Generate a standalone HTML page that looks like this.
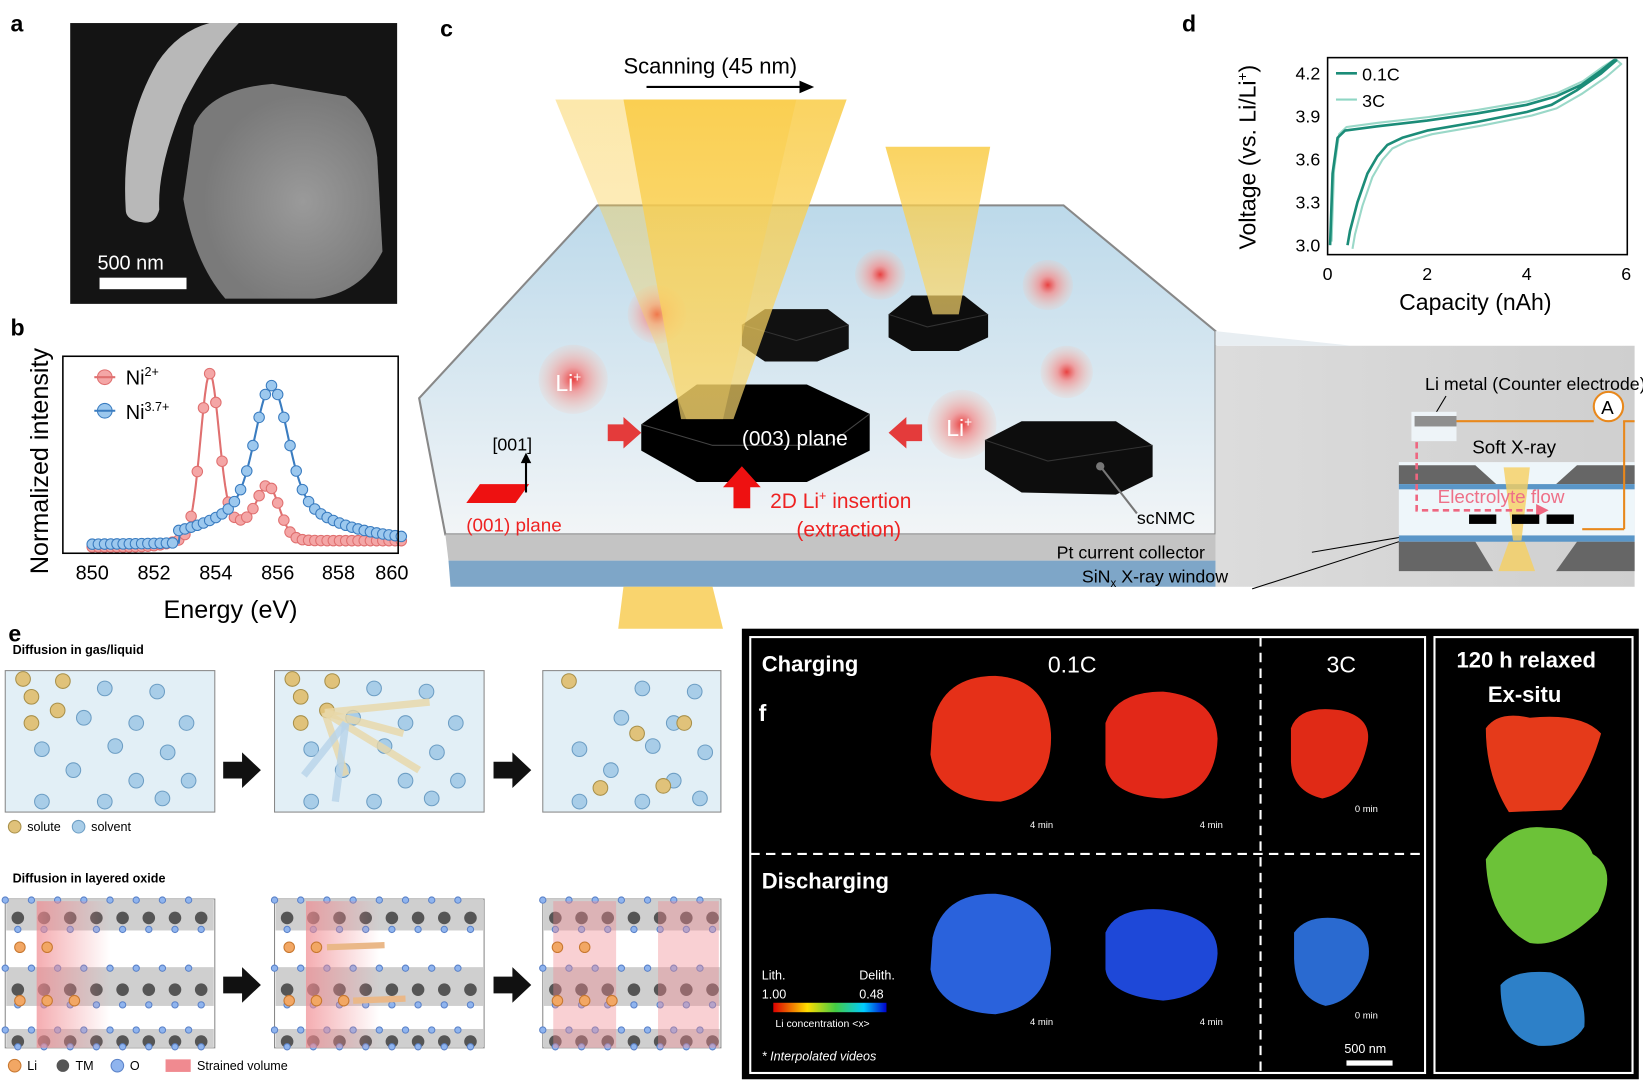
<!DOCTYPE html>
<html><head><meta charset="utf-8"><style>
html,body{margin:0;padding:0;background:#fff;width:1643px;height:1080px;overflow:hidden}
svg text{font-family:"Liberation Sans",sans-serif}
</style></head><body>
<svg id="s" width="1643" height="1080" viewBox="0 0 1568 1030.7" preserveAspectRatio="none" xmlns="http://www.w3.org/2000/svg">
<defs>
<radialGradient id="li"><stop offset="0" stop-color="#e84040"/><stop offset=".35" stop-color="#f29090" stop-opacity=".8"/><stop offset="1" stop-color="#f6c0b0" stop-opacity=".15"/></radialGradient>
<linearGradient id="face" x1="0" y1="0" x2="0" y2="1"><stop offset="0" stop-color="#bcd9ea"/><stop offset="1" stop-color="#f2f5f7"/></linearGradient>
<linearGradient id="beam" x1="0" y1="0" x2="0" y2="1"><stop offset="0" stop-color="#f9c93c" stop-opacity=".95"/><stop offset="1" stop-color="#fbd970" stop-opacity=".8"/></linearGradient>
<linearGradient id="gpanel" x1="0" y1="0" x2="1" y2="0"><stop offset="0" stop-color="#dcdcdc"/><stop offset="1" stop-color="#cfcfcf"/></linearGradient>
<radialGradient id="sem" cx=".6" cy=".55" r=".5"><stop offset="0" stop-color="#9a9a9a"/><stop offset="1" stop-color="#7a7a7a"/></radialGradient>
<linearGradient id="strain" x1="0" y1="0" x2="1" y2="0"><stop offset="0" stop-color="#f08a90" stop-opacity=".7"/><stop offset="1" stop-color="#f08a90" stop-opacity="0"/></linearGradient>
<linearGradient id="jet"><stop offset="0" stop-color="#d00"/><stop offset=".3" stop-color="#fd0"/><stop offset=".55" stop-color="#4c4"/><stop offset=".8" stop-color="#0cf"/><stop offset="1" stop-color="#00c"/></linearGradient>
</defs>

<text x="10" y="30" font-size="22" font-weight="bold">a</text>
<text x="10" y="320" font-size="22" font-weight="bold">b</text>
<text x="420" y="35" font-size="22" font-weight="bold">c</text>
<text x="1128" y="30" font-size="22" font-weight="bold">d</text>
<text x="8" y="612" font-size="22" font-weight="bold">e</text>

<!-- a -->
<rect x="67" y="22" width="312" height="268" fill="#141414"/>
<path d="M120 200 Q115 120 150 60 Q170 30 200 22 L228 22 Q200 50 175 100 Q150 160 152 200 Q148 215 135 212 Q120 210 120 200Z" fill="#b8b8b8"/>
<path d="M185 120 Q200 85 260 80 L330 92 Q355 110 360 150 L365 240 Q345 280 300 285 L215 285 Q185 250 175 190Z" fill="url(#sem)"/>
<rect x="95" y="265" width="83" height="11" fill="#fff"/>
<text x="93" y="257" font-size="19" fill="#fff">500 nm</text>

<!-- b -->
<g id="pb"></g>
<rect x="60" y="340" width="320" height="188" fill="none" stroke="#000" stroke-width="1.5"/>
<g font-size="19" text-anchor="middle">
<text x="88" y="553">850</text><text x="147" y="553">852</text><text x="206" y="553">854</text><text x="265" y="553">856</text><text x="323" y="553">858</text><text x="374" y="553">860</text>
</g>
<text x="220" y="590" font-size="24" text-anchor="middle">Energy (eV)</text>
<text transform="translate(46,440) rotate(-90)" font-size="24" text-anchor="middle">Normalized intensity</text>
<circle cx="100" cy="360" r="7" fill="#f4a6a6" stroke="#e07070"/><line x1="90" y1="360" x2="110" y2="360" stroke="#e07070" stroke-width="2"/>
<text x="120" y="367" font-size="19">Ni<tspan font-size="12" dy="-8">2+</tspan></text>
<circle cx="100" cy="392" r="7" fill="#9cc8ee" stroke="#3a7cc0"/><line x1="90" y1="392" x2="110" y2="392" stroke="#3a7cc0" stroke-width="2"/>
<text x="120" y="400" font-size="19">Ni<tspan font-size="12" dy="-8">3.7+</tspan></text>

<!-- c -->
<polygon points="400,380 570,196 1015,196 1160,316 1160,510 425,510" fill="url(#face)" stroke="#888" stroke-width="2"/>
<polygon points="425,510 1160,510 1160,535 428,535" fill="#c4c4c4"/>
<polygon points="428,535 1160,535 1160,560 430,560" fill="#7ea6c8"/>
<circle cx="627" cy="300" r="28" fill="url(#li)"/>
<circle cx="840" cy="262" r="24" fill="url(#li)"/>
<circle cx="1018" cy="355" r="25" fill="url(#li)"/>
<circle cx="1000" cy="272" r="24" fill="url(#li)"/>
<circle cx="547" cy="362" r="33" fill="url(#li)"/>
<circle cx="918" cy="405" r="33" fill="url(#li)"/>
<text x="530" y="373" font-size="22" fill="#fff">Li<tspan font-size="13" dy="-9">+</tspan></text>
<!-- hexes -->
<polygon points="708,310 730,295 790,295 810,310 810,333 780,345 730,345 708,330" fill="#111"/>
<polyline points="708,310 760,325 810,310" fill="none" stroke="#333"/>
<polygon points="848,300 870,282 920,282 943,300 943,322 915,335 870,335 848,322" fill="#0d0d0d"/>
<polyline points="848,300 885,312 943,300" fill="none" stroke="#333"/>
<polygon points="940,420 975,402 1065,402 1100,425 1100,455 1065,472 975,470 940,448" fill="#0d0d0d"/>
<polyline points="940,420 1000,440 1100,425" fill="none" stroke="#333"/>
<text x="903" y="416" font-size="22" fill="#fff">Li<tspan font-size="13" dy="-9">+</tspan></text>
<line x1="1050" y1="445" x2="1085" y2="490" stroke="#777" stroke-width="2"/><circle cx="1050" cy="445" r="4" fill="#777"/>
<polygon points="612,405 665,367 770,367 830,395 830,430 770,460 665,460 612,430" fill="#000"/>
<polyline points="612,405 680,425 790,425 830,395" fill="none" stroke="#444"/>
<!-- beams -->
<polygon points="530,95 760,95 690,400 655,400" fill="url(#beam)" opacity=".45"/>
<polygon points="595,95 808,95 700,400 650,400" fill="url(#beam)" opacity=".85"/>
<polygon points="845,140 945,140 915,300 890,300" fill="url(#beam)" opacity=".85"/>
<polygon points="595,560 680,560 690,600 590,600" fill="#f7c94a" opacity=".8"/>
<text x="708" y="425" font-size="20" fill="#fff">(003) plane</text>
<polygon points="580,405 595,405 595,398 612,413 595,428 595,421 580,421" fill="#e43b3b"/>
<polygon points="880,405 865,405 865,398 848,413 865,428 865,421 880,421" fill="#e43b3b"/>
<polygon points="700,485 700,465 690,465 708,445 726,465 716,465 716,485" fill="#ee1111"/>
<polygon points="458,462 505,462 492,480 445,480" fill="#ee1111"/>
<line x1="502" y1="470" x2="502" y2="440" stroke="#000" stroke-width="2"/><polygon points="497,442 502,432 507,442"/>
<text x="470" y="430" font-size="17">[001]</text>
<text x="445" y="507" font-size="18" fill="#ee2222">(001) plane</text>
<text x="735" y="485" font-size="20" fill="#ee2222">2D Li<tspan font-size="12" dy="-8">+</tspan><tspan dy="8"> insertion</tspan></text>
<text x="760" y="512" font-size="20" fill="#ee2222">(extraction)</text>
<text x="1085" y="500" font-size="17">scNMC</text>
<text x="595" y="70" font-size="21">Scanning (45 nm)</text>
<line x1="617" y1="83" x2="765" y2="83" stroke="#000" stroke-width="2"/><polygon points="763,77 777,83 763,89"/>

<!-- inset -->
<rect x="1160" y="330" width="400" height="230" fill="url(#gpanel)"/>
<polygon points="1160,316 1160,330 1290,330" fill="#e8eef2"/>
<text x="1360" y="372" font-size="17">Li metal (Counter electrode)</text>
<line x1="1380" y1="378" x2="1368" y2="398" stroke="#000"/>
<rect x="1347" y="393" width="43" height="28" fill="#eef4f8"/>
<rect x="1350" y="397" width="40" height="10" fill="#8f8f8f"/>
<rect x="1335" y="441" width="225" height="70" fill="#eef6fa"/>
<polygon points="1335,444 1408,444 1428,462 1335,462" fill="#666"/>
<polygon points="1560,444 1505,444 1485,462 1560,462" fill="#666"/>
<rect x="1335" y="462" width="225" height="5" fill="#5a96c8"/>
<rect x="1335" y="511" width="225" height="6" fill="#5a96c8"/>
<polygon points="1335,517 1408,517 1425,545 1335,545" fill="#666"/>
<polygon points="1560,517 1505,517 1485,545 1560,545" fill="#666"/>
<polygon points="1435,446 1460,446 1452,516 1444,516" fill="#f6d060" opacity=".8"/>
<polygon points="1440,517 1455,517 1465,545 1430,545" fill="#f6d060" opacity=".8"/>
<polyline points="1352,422 1352,487 1468,487" fill="none" stroke="#ee6680" stroke-width="2.5" stroke-dasharray="6,4"/>
<polygon points="1466,481 1478,487 1466,493" fill="#ee6680"/>
<text x="1372" y="480" font-size="18" fill="#ee7088">Electrolyte flow</text>
<text x="1405" y="433" font-size="18">Soft X-ray</text>
<rect x="1402" y="491" width="26" height="9"/><rect x="1443" y="491" width="26" height="9"/><rect x="1476" y="491" width="26" height="9"/>
<line x1="1390" y1="402" x2="1521" y2="402" stroke="#e8881c" stroke-width="2"/>
<line x1="1549" y1="402" x2="1560" y2="402" stroke="#e8881c" stroke-width="2"/>
<circle cx="1535" cy="388" r="14" fill="#fff" stroke="#e8881c" stroke-width="2"/>
<text x="1528" y="395" font-size="18">A</text>
<line x1="1550" y1="402" x2="1550" y2="505" stroke="#e8881c" stroke-width="2"/>
<line x1="1510" y1="505" x2="1550" y2="505" stroke="#e8881c" stroke-width="2"/>
<line x1="1252" y1="527" x2="1335" y2="513" stroke="#000"/>
<line x1="1195" y1="562" x2="1335" y2="517" stroke="#000"/>
<text x="1150" y="533" font-size="17" text-anchor="end">Pt current collector</text>
<text x="1172" y="556" font-size="17" text-anchor="end">SiN<tspan font-size="11" dy="4">x</tspan><tspan dy="-4"> X-ray window</tspan></text>

<!-- d -->
<g id="pd"></g>
<rect x="1267" y="55" width="286" height="188" fill="none" stroke="#000" stroke-width="1.5"/>
<g font-size="17" text-anchor="end">
<text x="1260" y="76">4.2</text><text x="1260" y="117">3.9</text><text x="1260" y="158">3.6</text><text x="1260" y="199">3.3</text><text x="1260" y="240">3.0</text>
</g>
<g font-size="17" text-anchor="middle">
<text x="1267" y="267">0</text><text x="1362" y="267">2</text><text x="1457" y="267">4</text><text x="1552" y="267">6</text>
</g>
<text x="1408" y="296" font-size="22" text-anchor="middle">Capacity (nAh)</text>
<text transform="translate(1198,150) rotate(-90)" font-size="22" text-anchor="middle">Voltage (vs. Li/Li<tspan font-size="13" dy="-8">+</tspan><tspan dy="8">)</tspan></text>
<line x1="1275" y1="70" x2="1295" y2="70" stroke="#1b8c78" stroke-width="2.5"/><text x="1300" y="77" font-size="17">0.1C</text>
<line x1="1275" y1="95" x2="1295" y2="95" stroke="#8fd6c4" stroke-width="2"/><text x="1300" y="102" font-size="17">3C</text>

<!-- e -->
<text x="12" y="624" font-size="12" font-weight="bold">Diffusion in gas/liquid</text>
<text x="12" y="842" font-size="12" font-weight="bold">Diffusion in layered oxide</text>
<g id="pe"></g>
<g font-size="12">
<circle cx="14" cy="789" r="6" fill="#e0c27a" stroke="#a8904a"/><text x="26" y="793">solute</text>
<circle cx="75" cy="789" r="6" fill="#a8cde8" stroke="#6d9ec4"/><text x="87" y="793">solvent</text>
<circle cx="14" cy="1017" r="6" fill="#f2a764" stroke="#c87830"/><text x="26" y="1021">Li</text>
<circle cx="60" cy="1017" r="6" fill="#555"/><text x="72" y="1021">TM</text>
<circle cx="112" cy="1017" r="6" fill="#8fb4ee" stroke="#5b82c8"/><text x="124" y="1021">O</text>
<rect x="158" y="1011" width="24" height="12" fill="#f08a90"/><text x="188" y="1021">Strained volume</text>
</g>

<!-- f -->
<rect x="708" y="600" width="856" height="430" fill="#000"/>
<rect x="716" y="608" width="644" height="416" fill="none" stroke="#fff" stroke-width="2"/>
<rect x="1369" y="608" width="189" height="416" fill="none" stroke="#fff" stroke-width="2"/>
<line x1="716" y1="815" x2="1360" y2="815" stroke="#fff" stroke-width="2" stroke-dasharray="9,6"/>
<line x1="1203" y1="608" x2="1203" y2="1024" stroke="#fff" stroke-width="2" stroke-dasharray="9,6"/>
<text x="727" y="641" font-size="21" font-weight="bold" fill="#fff">Charging</text>
<text x="727" y="848" font-size="21" font-weight="bold" fill="#fff">Discharging</text>
<text x="1000" y="642" font-size="22" fill="#fff">0.1C</text>
<text x="1266" y="642" font-size="22" fill="#fff">3C</text>
<text x="1390" y="637" font-size="21" font-weight="bold" fill="#fff">120 h relaxed</text>
<text x="1420" y="670" font-size="21" font-weight="bold" fill="#fff">Ex-situ</text>
<text x="724" y="688" font-size="22" font-weight="bold" fill="#fff">f</text>
<path d="M890 690 Q900 645 950 645 Q1000 648 1003 700 Q1005 755 955 765 Q895 765 888 720Z" fill="#e53018"/>
<path d="M1055 690 Q1065 660 1110 660 Q1160 665 1162 705 Q1160 760 1110 762 Q1060 760 1055 730Z" fill="#e22818"/>
<path d="M1232 695 Q1240 672 1280 678 Q1310 685 1305 710 Q1295 755 1262 762 Q1232 755 1232 725Z" fill="#e02a16"/>
<path d="M1418 695 Q1430 678 1460 685 Q1510 680 1528 700 Q1515 745 1490 773 L1440 775 Q1418 740 1418 695Z" fill="#e53a1a"/>
<path d="M1418 820 Q1440 785 1475 790 Q1510 790 1520 815 Q1545 830 1525 870 Q1490 905 1460 900 Q1420 880 1418 820Z" fill="#6cc238"/>
<path d="M1432 940 Q1445 925 1480 928 Q1515 940 1512 980 Q1500 1000 1468 998 Q1432 990 1432 940Z" fill="#2d80c8"/>
<path d="M890 895 Q900 852 950 853 Q1000 858 1003 905 Q1003 960 950 968 Q895 965 888 925Z" fill="#2a62dc"/>
<path d="M1055 890 Q1065 865 1110 868 Q1162 875 1162 910 Q1160 950 1110 955 Q1058 950 1055 925Z" fill="#1e48d8"/>
<path d="M1235 890 Q1248 872 1280 877 Q1310 885 1306 915 Q1296 955 1265 960 Q1236 952 1235 915Z" fill="#2a6ad0"/>
<g font-size="9" fill="#fff"><text x="983" y="790">4 min</text><text x="1145" y="790">4 min</text><text x="1293" y="775">0 min</text>
<text x="983" y="978">4 min</text><text x="1145" y="978">4 min</text><text x="1293" y="972">0 min</text></g>
<text x="727" y="935" font-size="12" fill="#fff">Lith.</text><text x="820" y="935" font-size="12" fill="#fff">Delith.</text>
<text x="727" y="953" font-size="12" fill="#fff">1.00</text><text x="820" y="953" font-size="12" fill="#fff">0.48</text>
<rect x="738" y="957" width="108" height="9" fill="url(#jet)"/>
<text x="740" y="980" font-size="10" fill="#fff">Li concentration &lt;x&gt;</text>
<text x="727" y="1012" font-size="12" font-style="italic" fill="#fff">* Interpolated videos</text>
<rect x="1285" y="1012" width="44" height="5" fill="#fff"/>
<text x="1283" y="1005" font-size="12" fill="#fff">500 nm</text>
</svg>
<script>
var N="http://www.w3.org/2000/svg";
function el(p,t,a){var e=document.createElementNS(N,t);for(var k in a)e.setAttribute(k,a[k]);p.appendChild(e);return e;}
var pb=document.getElementById('pb');
function bx(E){return 88+(E-850)*29.5;}
function red(E){return 522-148*Math.exp(-Math.pow((E-853.8)/0.42,2))-45*Math.exp(-Math.pow((E-855.7)/0.5,2))-18*Math.exp(-Math.pow((E-854.6)/1.2,2))-6/(1+Math.exp(-(E-852.5)*3));}
function blue(E){return 520-100*Math.exp(-Math.pow((E-855.8)/0.7,2))-52/(1+Math.pow((E-855.8)/1.8,2))*(E>852.8?1:0.15);}
[[red,'#f4a6a6','#e07070'],[blue,'#9cc8ee','#3a7cc0']].forEach(function(c){var pts=[];for(var E=850;E<=860.001;E+=0.05){pts.push([bx(E),c[0](E)]);}
el(pb,'polyline',{points:pts.map(function(p){return p.join(',')}).join(' '),fill:'none',stroke:c[2],'stroke-width':2});
for(var E=850;E<=860.001;E+=0.2){el(pb,'circle',{cx:bx(E),cy:c[0](E),r:5,fill:c[1],stroke:c[2],'stroke-width':1});}});
var pd=document.getElementById('pd');
function dx(q){return 1267+q*47.5;} function dy(v){return 234-(v-3)*136.7;}
var up=[[0.05,3.0],[0.1,3.5],[0.2,3.75],[0.35,3.8],[1,3.83],[2,3.87],[3,3.92],[4,3.98],[4.6,4.04],[5.1,4.12],[5.5,4.22],[5.75,4.29]];
var lo=[[5.8,4.29],[5.5,4.2],[5,4.08],[4.5,3.98],[4,3.93],[3,3.86],[2,3.8],[1.5,3.75],[1.2,3.7],[1,3.62],[0.8,3.5],[0.6,3.3],[0.45,3.1],[0.4,3.0]];
function draw(dq,dv,col,w){var p=up.map(function(a){return [dx(a[0]+dq*0.3),dy(Math.min(4.3,a[1]+dv))]}).concat(lo.map(function(a){return [dx(a[0]+dq),dy(Math.min(4.3,a[1]-dv))]}));
el(pd,'polyline',{points:p.map(function(a){return a.join(',')}).join(' '),fill:'none',stroke:col,'stroke-width':w,'stroke-linejoin':'round'});}
draw(0.1,0.025,'#9ad8c8',2);draw(0,0,'#1b8c78',2.5);
var pe=document.getElementById('pe');
var xs=[5,262,518];
xs.forEach(function(x0,i){el(pe,'rect',{x:x0,y:640,width:i==2?170:200,height:135,fill:'#e2eff6',stroke:'#888'});});
var sol=[[22,648],[60,650],[30,665],[55,678],[30,690]];
var sv=[[100,657],[150,660],[80,685],[130,690],[178,690],[40,715],[110,712],[160,718],[70,735],[130,745],[180,745],[40,765],[100,765],[155,762]];
xs.forEach(function(x0,i){
 sv.forEach(function(p){if(i==2&&p[0]>175)return;el(pe,'circle',{cx:x0+p[0]-5,cy:p[1],r:7,fill:'#a8cde8',stroke:'#6d9ec4'});});
 sol.forEach(function(p,j){var q=i==2?[[30,650],[95,700],[60,752],[140,690],[120,750]][j]:p;el(pe,'circle',{cx:x0+q[0]-5,cy:q[1],r:7,fill:'#e0c27a',stroke:'#a8904a'});});
 if(i==1){[[410,670],[385,700],[400,735],[330,740]].forEach(function(t){el(pe,'line',{x1:310,y1:680,x2:t[0],y2:t[1],stroke:'#e9d8a8','stroke-width':7,opacity:.8});});
 [[290,740],[320,765]].forEach(function(t){el(pe,'line',{x1:330,y1:690,x2:t[0],y2:t[1],stroke:'#b8d4ea','stroke-width':7,opacity:.8});});}
});
function arr(a){el(pe,'polygon',{points:(a[0])+','+(a[1]-8)+' '+(a[0]+18)+','+(a[1]-8)+' '+(a[0]+18)+','+(a[1]-17)+' '+(a[0]+36)+','+a[1]+' '+(a[0]+18)+','+(a[1]+17)+' '+(a[0]+18)+','+(a[1]+8)+' '+a[0]+','+(a[1]+8),fill:'#111'});}
[[213,735],[471,735],[213,940],[471,940]].forEach(arr);
xs.forEach(function(x0,i){var w=i==2?170:200;
 el(pe,'rect',{x:x0,y:858,width:w,height:142,fill:'#fff',stroke:'#888'});
 [[858,888],[923,960],[982,1000]].forEach(function(b){el(pe,'rect',{x:x0+1,y:b[0],width:w-2,height:b[1]-b[0],fill:'#cfcfcf'});
  for(var k=0;k<8;k++){var cx=x0+12+k*25;if(cx>x0+w-6)break;el(pe,'circle',{cx:cx,cy:(b[0]+b[1])/2+3,r:6,fill:'#555'});el(pe,'circle',{cx:cx-12,cy:b[0]+1,r:3,fill:'#8fb4ee',stroke:'#5b82c8'});el(pe,'circle',{cx:cx,cy:b[1]-1,r:3,fill:'#8fb4ee',stroke:'#5b82c8'});}});
 if(i<2){el(pe,'rect',{x:x0+30,y:860,width:70,height:140,fill:'url(#strain)'});}
 else{el(pe,'rect',{x:x0+10,y:860,width:60,height:140,fill:'#f08a90',opacity:.4});el(pe,'rect',{x:x0+110,y:860,width:58,height:140,fill:'#f08a90',opacity:.4});}
 [[14,904],[40,904],[14,955],[40,955],[66,955]].forEach(function(p){el(pe,'circle',{cx:x0+p[0],cy:p[1],r:5,fill:'#f2a764',stroke:'#c87830'});});
 if(i==1){el(pe,'line',{x1:x0+50,y1:904,x2:x0+105,y2:902,stroke:'#eab888','stroke-width':6});el(pe,'line',{x1:x0+75,y1:955,x2:x0+125,y2:953,stroke:'#eab888','stroke-width':6});}
});
</script>
</body></html>
